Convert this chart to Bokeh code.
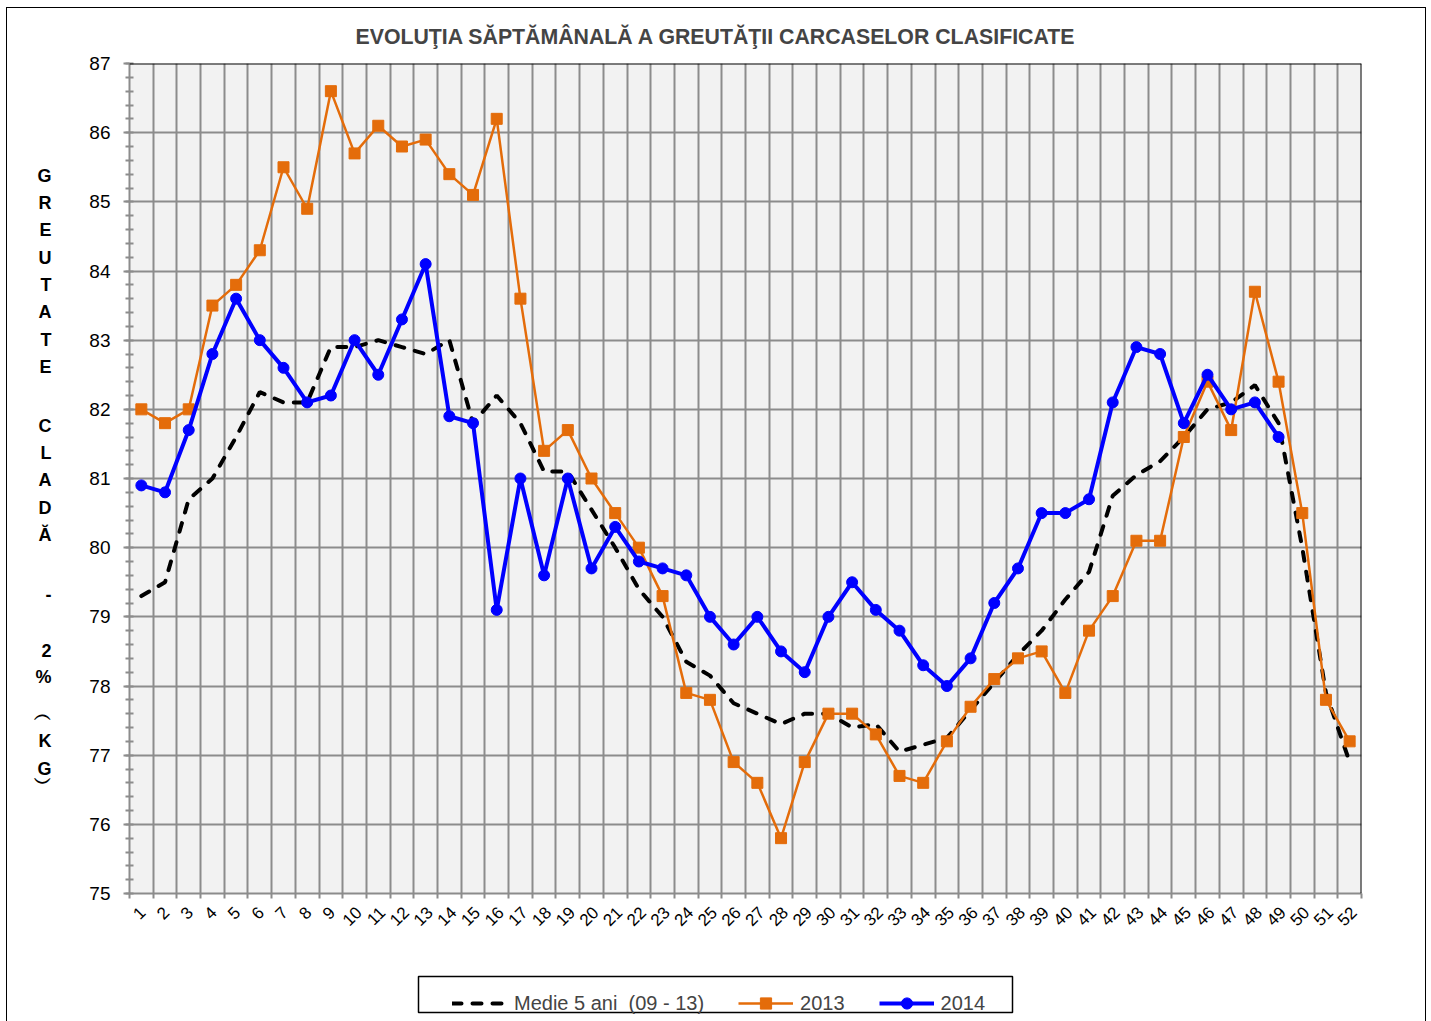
import math
from bokeh.plotting import figure
from bokeh.layouts import column
from bokeh.models import (FixedTicker, Range1d, Legend, LegendItem, Span, LinearAxis,
                          BoxAnnotation)
from bokeh.embed import file_html
from bokeh.resources import INLINE

# ---------------- data ----------------
weeks = list(range(1, 53))
week_labels = [str(w) for w in weeks]

medie = [79.3, 79.5, 80.7, 81.0, 81.6, 82.25, 82.1, 82.1, 82.9, 82.9,
         83.0, 82.9, 82.8, 83.0, 81.8, 82.2, 81.8, 81.1, 81.1, 80.55,
         80.0, 79.4, 79.0, 78.35, 78.15, 77.75, 77.6, 77.45, 77.6, 77.6,
         77.4, 77.45, 77.05, 77.15, 77.25, 77.65, 78.05, 78.45, 78.8, 79.25,
         79.65, 80.75, 81.05, 81.25, 81.6, 82.0, 82.1, 82.35, 81.8, 80.0,
         77.9, 76.9]

y2013 = [82.0, 81.8, 82.0, 83.5, 83.8, 84.3, 85.5, 84.9, 86.6, 85.7,
         86.1, 85.8, 85.9, 85.4, 85.1, 86.2, 83.6, 81.4, 81.7, 81.0,
         80.5, 80.0, 79.3, 77.9, 77.8, 76.9, 76.6, 75.8, 76.9, 77.6,
         77.6, 77.3, 76.7, 76.6, 77.2, 77.7, 78.1, 78.4, 78.5, 77.9,
         78.8, 79.3, 80.1, 80.1, 81.6, 82.4, 81.7, 83.7, 82.4, 80.5,
         77.8, 77.2]

y2014 = [80.9, 80.8, 81.7, 82.8, 83.6, 83.0, 82.6, 82.1, 82.2, 83.0,
         82.5, 83.3, 84.1, 81.9, 81.8, 79.1, 81.0, 79.6, 81.0, 79.7,
         80.3, 79.8, 79.7, 79.6, 79.0, 78.6, 79.0, 78.5, 78.2, 79.0,
         79.5, 79.1, 78.8, 78.3, 78.0, 78.4, 79.2, 79.7, 80.5, 80.5,
         80.7, 82.1, 82.9, 82.8, 81.8, 82.5, 82.0, 82.1, 81.6]
weeks_2014 = weeks[:len(y2014)]

y_ticks = list(range(75, 88))
title_text = "EVOLUŢIA SĂPTĂMÂNALĂ  A GREUTĂŢII  CARCASELOR  CLASIFICATE"
y_title_chars = ["G", "R", "E", "U", "T", "A", "T", "E",
                 "C", "L", "A", "D", "Ă", "-", "2", "%",
                 "\ufe35", "K", "G", "\ufe36"]
series_names = ["Medie 5 ani  (09 - 13)", "2013", "2014"]

# ---------------- styles ----------------
FONT = "Liberation Sans"
GRID = "#8c8c8c"
ORANGE = "#E46C0A"
BLUE = "#0000FF"
medie_style = dict(line_color="black", line_width=4, line_dash="9 11", line_cap="round")
l13_style = dict(line_color=ORANGE, line_width=2.5)
s13_style = dict(marker="square", size=11, fill_color=ORANGE, line_color=ORANGE)
l14_style = dict(line_color=BLUE, line_width=4)
s14_style = dict(marker="circle", size=11, fill_color=BLUE, line_color=BLUE)

# ---------------- main figure ----------------
X0, X1 = 0.5, 52.5
Y0, Y1 = 75, 87
LEFT, RIGHT, TOP, BOTTOM = 122, 64, 55, 67
W, H = 1418, 952
FW = W - LEFT - RIGHT
FH = H - TOP - BOTTOM
PAGE_X, PAGE_Y = 7, 8

p = figure(width=W, height=H, x_range=Range1d(X0, X1), y_range=Range1d(Y0, Y1),
           output_backend="svg", toolbar_location=None,
           min_border_left=LEFT, min_border_right=RIGHT,
           min_border_top=TOP, min_border_bottom=BOTTOM,
           background_fill_color="#f2f2f2", border_fill_color="white",
           outline_line_color=None)

# title
p.title.text = title_text
p.title.align = "left"
p.title.offset = 226
p.title.text_font = FONT
p.title.text_font_style = "bold"
p.title.text_font_size = "21.3px"
p.title.standoff = 29

# x axis: labels on band centres, tick marks on band edges
xa = p.xaxis[0]
label_shift = {1: 0.05, 2: 0.17}
tick_pos = [w + label_shift[len(l)] for w, l in zip(weeks, week_labels)]
xa.ticker = FixedTicker(ticks=tick_pos,
                        minor_ticks=[w - 0.5 for w in weeks] + [weeks[-1] + 0.5])
xa.major_label_overrides = {t: l for t, l in zip(tick_pos, week_labels)}
xa.major_label_orientation = math.pi / 4
xa.major_tick_out = 0
xa.major_tick_in = 0
xa.minor_tick_out = 5
xa.minor_tick_in = 0
xa.minor_tick_line_color = GRID
xa.minor_tick_line_width = 2
xa.axis_line_color = GRID
xa.axis_line_width = 2
xa.major_label_standoff = 11
xa.major_label_text_font = FONT
xa.major_label_text_font_size = "17px"
xa.major_label_text_color = "black"

# y axis
ya = p.yaxis[0]
ya.ticker = FixedTicker(ticks=y_ticks,
                        minor_ticks=[Y0 + k * 0.2 for k in range(int((Y1 - Y0) * 5) + 1)])
ya.major_tick_out = 6
ya.major_tick_in = 0
ya.minor_tick_out = 4
ya.minor_tick_in = 4
ya.major_tick_line_color = GRID
ya.minor_tick_line_color = GRID
ya.major_tick_line_width = 2
ya.minor_tick_line_width = 2
ya.axis_line_color = GRID
ya.axis_line_width = 2
ya.major_label_standoff = 13
ya.major_label_text_font = FONT
ya.major_label_text_font_size = "19px"
ya.major_label_text_color = "black"

# stacked vertical axis title: one upright letter per row (outer left axis)
letter_py = [175, 202, 229, 257, 284, 311, 339, 366,
             425, 452, 479, 507, 534, 594, 650, 676, 713, 740, 768, 782]
letter_pos = [Y0 + ((TOP + PAGE_Y + FH) - py) * (Y1 - Y0) / FH for py in letter_py]
ta = LinearAxis(ticker=FixedTicker(ticks=letter_pos, minor_ticks=[]),
                major_label_overrides={v: c for v, c in zip(letter_pos, y_title_chars)},
                axis_line_color=None, major_tick_line_color=None,
                minor_tick_line_color=None, major_label_standoff=29,
                major_label_text_font=FONT, major_label_text_font_style="bold",
                major_label_text_font_size="18px", major_label_text_color="black")
p.add_layout(ta, "left")

# grids
p.xgrid.ticker = FixedTicker(ticks=[w - 0.5 for w in weeks] + [weeks[-1] + 0.5])
p.xgrid.grid_line_color = GRID
p.xgrid.grid_line_width = 2
p.ygrid.ticker = FixedTicker(ticks=y_ticks)
p.ygrid.grid_line_color = GRID
p.ygrid.grid_line_width = 2

# top / right frame edges
p.add_layout(Span(location=Y1, dimension="width", line_color="black", line_width=2))
p.add_layout(Span(location=X1, dimension="height", line_color="black", line_width=2))

# series
p.line(weeks, medie, **medie_style)
p.line(weeks, y2013, **l13_style)
p.scatter(weeks, y2013, **s13_style)
p.line(weeks_2014, y2014, **l14_style)
p.scatter(weeks_2014, y2014, **s14_style)

# ---------------- legend strip (data units = page pixels) ----------------
LH = 61
strip_top = PAGE_Y + H
strip_bottom = strip_top + LH
fx0 = PAGE_X + LEFT
q = figure(width=W, height=LH, x_range=Range1d(fx0, fx0 + FW),
           y_range=Range1d(0, LH),
           output_backend="svg", toolbar_location=None,
           min_border_left=LEFT, min_border_right=RIGHT,
           min_border_top=0, min_border_bottom=0,
           x_axis_location=None, y_axis_location=None,
           background_fill_color="white", border_fill_color="white",
           outline_line_color=None)
q.xgrid.visible = False
q.ygrid.visible = False

# legend frame box (page px 418..1012 x 976..1012)
q.add_layout(BoxAnnotation(left=418, right=1012,
                           top=strip_bottom - 976, bottom=strip_bottom - 1012,
                           fill_color="white", fill_alpha=1,
                           line_color="black", line_alpha=1, line_width=1.5,
                           level="underlay"))

# same series drawn in the strip (they fall outside its view; used as legend keys)
k_m = q.line(weeks, medie, **medie_style)
k13l = q.line(weeks, y2013, **l13_style)
k13s = q.scatter(weeks, y2013, **s13_style)
k14l = q.line(weeks_2014, y2014, **l14_style)
k14s = q.scatter(weeks_2014, y2014, **s14_style)

legend = Legend(items=[LegendItem(label=series_names[0], renderers=[k_m]),
                       LegendItem(label=series_names[1], renderers=[k13l, k13s]),
                       LegendItem(label=series_names[2], renderers=[k14l, k14s])],
                orientation="horizontal",
                location=(452 - fx0, 4),
                border_line_color=None, background_fill_alpha=0,
                label_text_font=FONT, label_text_font_size="20px",
                glyph_width=55, glyph_height=28,
                label_standoff=7, spacing=34, padding=7, margin=0)
q.add_layout(legend)

lay = column(p, q, spacing=0,
             styles={"outline": "1px solid black", "margin-left": f"{PAGE_X}px",
                     "margin-top": f"{PAGE_Y}px"})

open("out.html", "w").write(file_html(lay, INLINE))
